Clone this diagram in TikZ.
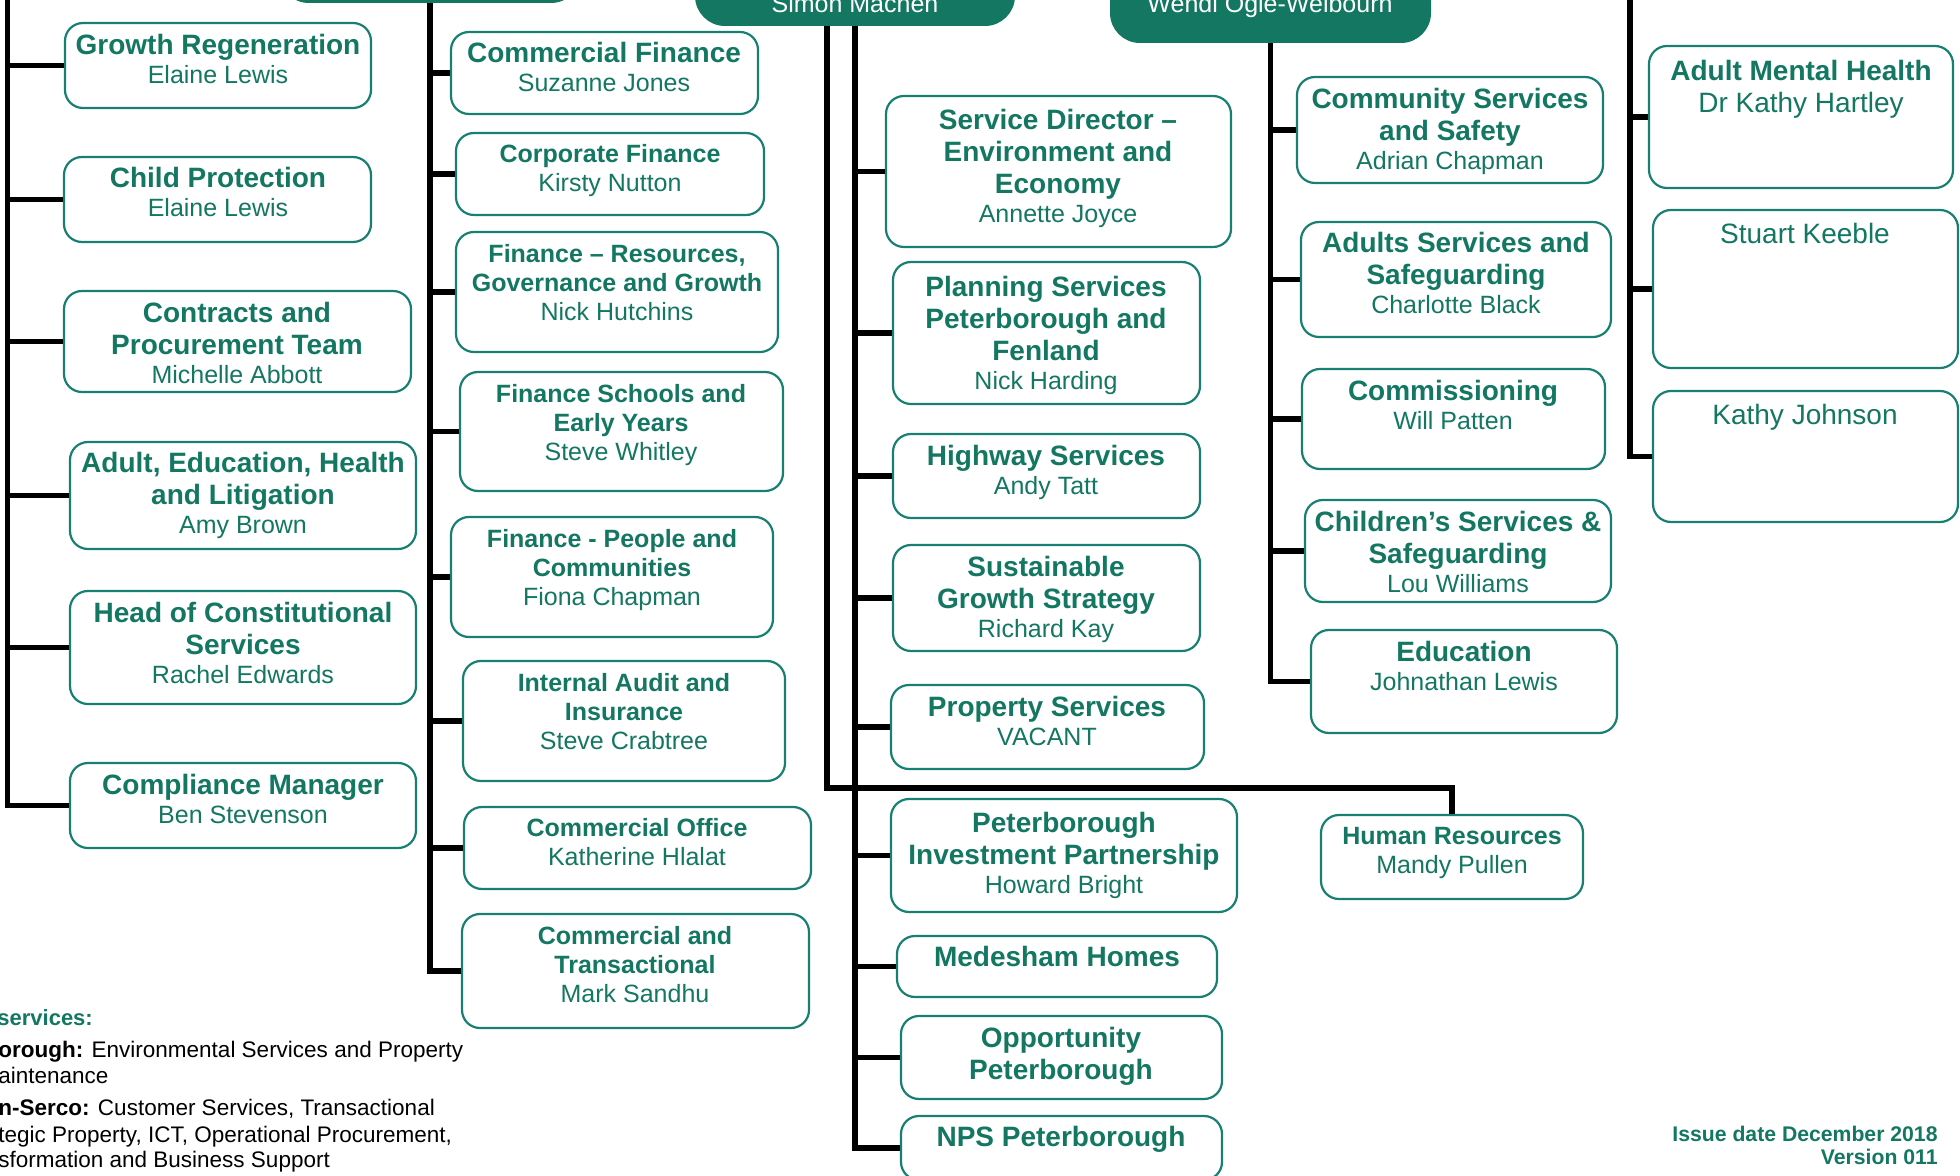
\documentclass[tikz,border=0pt]{standalone}
\usepackage{fontspec}
\setmainfont{Liberation Sans}
\usetikzlibrary{fit}
\definecolor{leaf}{RGB}{19,119,98}
\definecolor{rim}{RGB}{24,128,114}
\newcommand{\unitbf}{\fontsize{14}{16}\selectfont\bfseries}
\newcommand{\unitsmbf}{\fontsize{12.5}{14.5}\selectfont\bfseries}
\newcommand{\holder}[1]{{\fontsize{12.5}{14.5}\selectfont\mdseries #1}}
\newcommand{\who}[1]{\\[-1.8pt]{\fontsize{12.5}{14.5}\selectfont\mdseries #1}}
\newcommand{\holderbig}[1]{{\fontsize{14}{16}\selectfont\mdseries #1}}
\tikzset{
  unit/.style={draw=rim, line width=1.1pt, rounded corners=9pt, fill=white, inner sep=0pt},
  head/.style={fill=leaf, rounded corners=15pt, inner sep=0pt},
  link/.style={line width=2.6pt},
  caption/.style={anchor=north, align=center, inner sep=0pt, text=leaf, font=\unitbf},
  smallcaption/.style={caption, font=\unitsmbf},
  chief/.style={anchor=base, inner sep=0pt, text=white, font={\fontsize{12.5}{15}\selectfont}},
  legend/.style={anchor=base west, inner sep=0pt, font={\fontsize{11.25}{13.5}\selectfont}},
  stamp/.style={anchor=base east, inner sep=0pt, text=leaf, font={\fontsize{10.6}{11.5}\selectfont\bfseries}}
}
\begin{document}
\begin{tikzpicture}[x=0.5pt, y=-0.5pt]
	\useasboundingbox (0,0) rectangle (1960,1176);
	\clip (0,0) rectangle (1960,1176);
	\node[head, fit={(279,-60) (581,3)}] (finhead) {};
	\node[head, fit={(695,-60) (1015,26)}] (simon) {};
	\node[head, fit={(1110,-60) (1431,43)}] (wendi) {};
	\node[chief] (simonT) at (855,13) {Simon Machen};
	\node[chief] (wendiT) at (1270,13) {Wendi Ogle-Welbourn};
	\coordinate (legaltop) at (7.5,-40);
	\coordinate (healthtop) at (1630,-40);
	\node[unit, fit={(65,23) (371,108)}] (grow) {};
	\node[caption] (growT) at (218,34) {Growth Regeneration\who{Elaine Lewis}};
	\node[unit, fit={(64,157) (371,242)}] (child) {};
	\node[caption] (childT) at (218,167) {Child Protection\who{Elaine Lewis}};
	\node[unit, fit={(64,291) (411,392)}] (contr) {};
	\node[caption] (contrT) at (237,302) {Contracts and\\Procurement Team\who{Michelle Abbott}};
	\node[unit, fit={(70,442) (416,549)}] (adult) {};
	\node[caption] (adultT) at (243,452) {Adult, Education, Health\\and Litigation\who{Amy Brown}};
	\node[unit, fit={(70,591) (416,704)}] (const) {};
	\node[caption] (constT) at (243,602) {Head of Constitutional\\Services\who{Rachel Edwards}};
	\node[unit, fit={(70,763) (416,848)}] (comp) {};
	\node[caption] (compT) at (243,774) {Compliance Manager\who{Ben Stevenson}};
	\node[unit, fit={(451,32) (758,114)}] (cfin) {};
	\node[caption] (cfinT) at (604,42) {Commercial Finance\who{Suzanne Jones}};
	\node[unit, fit={(456,133) (764,215)}] (corp) {};
	\node[smallcaption] (corpT) at (610,144) {Corporate Finance\\\holder{Kirsty Nutton}};
	\node[unit, fit={(456,232) (778,352)}] (fres) {};
	\node[smallcaption] (fresT) at (617,244) {Finance – Resources,\\Governance and Growth\\\holder{Nick Hutchins}};
	\node[unit, fit={(460,372) (783,491)}] (fsch) {};
	\node[smallcaption] (fschT) at (621,384) {Finance Schools and\\Early Years\\\holder{Steve Whitley}};
	\node[unit, fit={(451,517) (773,637)}] (fpeo) {};
	\node[smallcaption] (fpeoT) at (612,529) {Finance - People and\\Communities\\\holder{Fiona Chapman}};
	\node[unit, fit={(463,661) (785,781)}] (faud) {};
	\node[smallcaption] (faudT) at (624,673) {Internal Audit and\\Insurance\\\holder{Steve Crabtree}};
	\node[unit, fit={(464,807) (811,889)}] (coff) {};
	\node[smallcaption] (coffT) at (637,818) {Commercial Office\\\holder{Katherine Hlalat}};
	\node[unit, fit={(462,914) (809,1028)}] (ctra) {};
	\node[smallcaption] (ctraT) at (635,926) {Commercial and\\Transactional\\\holder{Mark Sandhu}};
	\node[unit, fit={(886,96) (1231,247)}] (sdir) {};
	\node[caption] (sdirT) at (1058,109) {Service Director –\\Environment and\\Economy\who{Annette Joyce}};
	\node[unit, fit={(893,262) (1200,404)}] (plan) {};
	\node[caption] (planT) at (1046,276) {Planning Services\\Peterborough and\\Fenland\who{Nick Harding}};
	\node[unit, fit={(893,434) (1200,518)}] (high) {};
	\node[caption] (highT) at (1046,445) {Highway Services\who{Andy Tatt}};
	\node[unit, fit={(893,545) (1200,651)}] (sust) {};
	\node[caption] (sustT) at (1046,556) {Sustainable\\Growth Strategy\who{Richard Kay}};
	\node[unit, fit={(891,685) (1204,769)}] (prop) {};
	\node[caption] (propT) at (1047,696) {Property Services\who{VACANT}};
	\node[unit, fit={(891,799) (1237,912)}] (pip) {};
	\node[caption] (pipT) at (1064,812) {Peterborough\\Investment Partnership\who{Howard Bright}};
	\node[unit, fit={(897,936) (1217,997)}] (mede) {};
	\node[caption] (medeT) at (1057,946) {Medesham Homes};
	\node[unit, fit={(901,1016) (1222,1099)}] (oppo) {};
	\node[caption] (oppoT) at (1061,1027) {Opportunity\\Peterborough};
	\node[unit, fit={(901,1116) (1222,1180)}] (nps) {};
	\node[caption] (npsT) at (1061,1126) {NPS Peterborough};
	\node[unit, fit={(1321,815) (1583,899)}] (hr) {};
	\node[smallcaption] (hrT) at (1452,827) {Human Resources\\\holder{Mandy Pullen}};
	\node[unit, fit={(1297,77) (1603,183)}] (comm) {};
	\node[caption] (commT) at (1450,88) {Community Services\\and Safety\who{Adrian Chapman}};
	\node[unit, fit={(1301,222) (1611,337)}] (adlt) {};
	\node[caption] (adltT) at (1456,232) {Adults Services and\\Safeguarding\who{Charlotte Black}};
	\node[unit, fit={(1302,369) (1605,469)}] (cmsn) {};
	\node[caption] (cmsnT) at (1453,380) {Commissioning\who{Will Patten}};
	\node[unit, fit={(1305,500) (1611,602)}] (chld) {};
	\node[caption] (chldT) at (1458,511) {Children’s Services \&\\Safeguarding\who{Lou Williams}};
	\node[unit, fit={(1311,630) (1617,733)}] (educ) {};
	\node[caption] (educT) at (1464,641) {Education\who{Johnathan Lewis}};
	\node[unit, fit={(1649,46) (1953,188)}] (amh) {};
	\node[caption] (amhT) at (1801,60) {Adult Mental Health\\\holderbig{Dr Kathy Hartley}};
	\node[unit, fit={(1653,210) (1958,368)}] (stu) {};
	\node[caption] (stuT) at (1805,223) {\holderbig{Stuart Keeble}};
	\node[unit, fit={(1653,391) (1958,522)}] (kat) {};
	\node[caption] (katT) at (1805,404) {\holderbig{Kathy Johnson}};
	\draw[link] (legaltop) |- (comp.west);
	\foreach \u in {grow,child,contr,adult,const}
		\draw[link] (legaltop |- \u.west) -- (\u.west);
	\draw[link] (finhead.south) |- (ctra.west);
	\foreach \u in {cfin,corp,fres,fsch,fpeo,faud,coff}
		\draw[link] (finhead.south |- \u.west) -- (\u.west);
	\draw[link] (simon.south) |- (nps.west);
	\foreach \u in {sdir,plan,high,sust,prop,pip,mede,oppo}
		\draw[link] (simon.south |- \u.west) -- (\u.west);
	\draw[link] ([xshift=-14pt]simon.south) |- ([yshift=13pt]hr.north) -- (hr.north);
	\draw[link] (wendi.south) |- (educ.west);
	\foreach \u in {comm,adlt,cmsn,chld}
		\draw[link] (wendi.south |- \u.west) -- (\u.west);
	\draw[link] (healthtop) |- (kat.west);
	\foreach \u in {amh,stu}
		\draw[link] (healthtop |- \u.west) -- (\u.west);
	\node[legend, text=leaf, font={\fontsize{11}{13}\selectfont\bfseries}] (outs) at (-3,1025) {services:};
	\node[legend] (amey1) at (-2,1057) {\textbf{orough:} Environmental Services and Property};
	\node[legend] (amey2) at (-2,1083) {aintenance};
	\node[legend] (serco1) at (-2,1115) {\textbf{n-Serco:} Customer Services, Transactional};
	\node[legend] (serco2) at (-2,1142) {tegic Property, ICT, Operational Procurement,};
	\node[legend] (serco3) at (-2,1167) {sformation and Business Support};
	\node[stamp] (issue) at (1938,1141) {Issue date December 2018};
	\node[stamp] (version) at (1938,1164) {Version 011};
\end{tikzpicture}
\end{document}
